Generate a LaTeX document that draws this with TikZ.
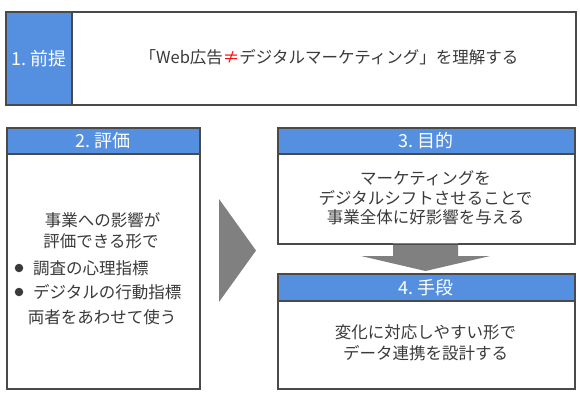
\documentclass[tikz,border=0pt]{standalone}
\usepackage{fontspec}
\setmainfont{Noto Sans CJK JP}
\usetikzlibrary{calc}
\definecolor{headc}{HTML}{5590E0}
\definecolor{framec}{HTML}{4A4A4A}
\definecolor{txtc}{HTML}{3A3A3A}
\definecolor{arrc}{HTML}{808080}
\tikzset{
 frame/.style={draw=framec, line width=1.6pt, fill=white, inner sep=0pt, anchor=north west},
 headbox/.style={draw=framec, line width=1.6pt, fill=headc, inner sep=0pt, anchor=north west},
 bodytext/.style={text=txtc, font=\fontsize{16.5}{20}\selectfont, inner sep=0pt},
 headtext/.style={text=white, font=\fontsize{18}{20}\selectfont, inner sep=0pt},
 bullet/.style={circle, fill=txtc, minimum size=8.5pt, inner sep=0pt},
 bigarrow/.style={fill=arrc, draw=none},
}
\begin{document}
\begin{tikzpicture}[x=1pt,y=-1pt]
\useasboundingbox (0,0) rectangle (580,400);
% box 1
\node[frame, minimum width=570pt, minimum height=93pt] (p1) at (5,11) {};
\node[headbox, minimum width=66pt, minimum height=93pt] (p1h) at (5,11) {};
\node[headtext] (p1t) at (p1h.center) {1.\hspace{4pt}前提};
\node[bodytext] (p1b) at (329,57) {「Web広告{\color{red}≠}デジタルマーケティング」を理解する};
% box 2
\node[frame, minimum width=193pt, minimum height=261pt] (p2) at (6,127) {};
\node[headbox, minimum width=193pt, minimum height=26pt] (p2h) at (6,127) {};
\node[headtext] (p2t) at (p2h.center) {2.\hspace{4pt}評価};
\node[bodytext] (p2a) at (102.5,220) {事業への影響が};
\node[bodytext] (p2b) at (101,241) {評価できる形で};
\node[bullet] (bu1) at (19,268) {};
\node[bodytext, anchor=west] (p2c) at (33,268) {調査の心理指標};
\node[bullet] (bu2) at (19,292) {};
\node[bodytext, anchor=west] (p2d) at (33,292) {デジタルの行動指標};
\node[bodytext] (p2e) at (102,317) {両者をあわせて使う};
% box 3
\node[frame, minimum width=297pt, minimum height=116pt] (p3) at (277,127) {};
\node[headbox, minimum width=297pt, minimum height=26pt] (p3h) at (277,127) {};
\node[headtext] (p3t) at (p3h.center) {3.\hspace{4pt}目的};
\node[bodytext] (p3a) at (425.5,178.5) {マーケティングを};
\node[bodytext] (p3b) at (425.5,198) {デジタルシフトさせることで};
\node[bodytext] (p3c) at (425.5,217.5) {事業全体に好影響を与える};
% box 4
\node[frame, minimum width=297pt, minimum height=115pt] (p4) at (277,273) {};
\node[headbox, minimum width=297pt, minimum height=27pt] (p4h) at (277,273) {};
\node[headtext] (p4t) at (p4h.center) {4.\hspace{4pt}手段};
\node[bodytext] (p4a) at (425.5,332) {変化に対応しやすい形で};
\node[bodytext] (p4b) at (425.5,353) {データ連携を設計する};
% arrows
\fill[bigarrow] (219,199) -- (256,250.5) -- (219,302) -- cycle;
\fill[bigarrow] (393,243) -- (458,243) -- (458,256) -- (490,256) -- (425.5,271) -- (361,256) -- (393,256) -- cycle;
\draw[draw=framec, line width=1.6pt] (p3.south west) -- (p3.south east);
\end{tikzpicture}
\end{document}
